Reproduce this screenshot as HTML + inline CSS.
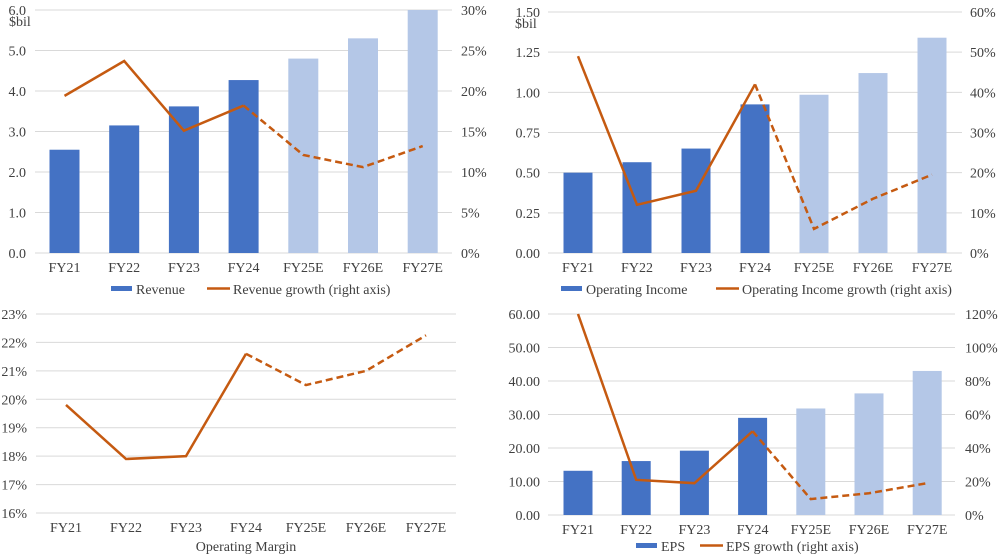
<!DOCTYPE html>
<html><head><meta charset="utf-8"><style>
body{margin:0;background:#fff;width:1000px;height:556px;overflow:hidden;font-family:"Liberation Serif",serif}
svg{position:absolute;left:0;top:0}
text{font-family:"Liberation Serif",serif;fill:#404040;font-size:14px}
</style></head><body>
<svg id="c" width="1000" height="556"></svg>
<script>
const categories=["FY21","FY22","FY23","FY24","FY25E","FY26E","FY27E"];
const revenue=[2.55,3.15,3.62,4.27,4.8,5.3,6.0];
const revenueGrowth=[19.4,23.7,15.1,18.2,12.1,10.6,13.2];
const opIncome=[0.50,0.565,0.65,0.925,0.985,1.12,1.34];
const opIncomeGrowth=[49,12,15.5,42,6,13.5,19.5];
const opMargin=[19.8,17.9,18.0,21.6,20.5,21.0,22.25];
const eps=[13.2,16.1,19.2,29.0,31.8,36.3,43.0];
const epsGrowth=[122,21,19,50,9.5,13,19];
const revTicks=["0.0","1.0","2.0","3.0","4.0","5.0","6.0"];
const pct5Ticks=["0%","5%","10%","15%","20%","25%","30%"];
const oiTicks=["0.00","0.25","0.50","0.75","1.00","1.25","1.50"];
const pct10Ticks=["0%","10%","20%","30%","40%","50%","60%"];
const marginTicks=["16%","17%","18%","19%","20%","21%","22%","23%"];
const epsTicks=["0.00","10.00","20.00","30.00","40.00","50.00","60.00"];
const pct20Ticks=["0%","20%","40%","60%","80%","100%","120%"];

const svg=document.getElementById('c');
const NS='http://www.w3.org/2000/svg';
function mk(tag,attrs,parent){const e=document.createElementNS(NS,tag);for(const k in attrs)e.setAttribute(k,attrs[k]);(parent||svg).appendChild(e);return e;}
function txt(s,x,y,anchor,parent,size){const t=mk('text',{x:x,y:y,'text-anchor':anchor||'start'},parent);if(size)t.setAttribute('font-size',size);t.textContent=s;return t;}

function chart(o){
  const g=mk('g',{});
  
  
  const n=o.lTicks.length-1;
  const yL=v=>o.y0-(v-o.lMin)/(o.lMax-o.lMin)*(o.y0-o.y1);
  const x=i=>o.xc0+i*o.step;
  for(let i=0;i<=n;i++){
    const yy=o.y0-i*(o.y0-o.y1)/n;
    const gl=mk('line',{x1:o.gx0,x2:o.gx1,y1:yy,y2:yy,stroke:'#d9d9d9','stroke-width':1},g);
    
    
    const t=txt(o.lTicks[i],o.lx,yy+5,'end',g);
    
    
    if(o.rTicks){const r=txt(o.rTicks[i],o.rx,yy+5,'start',g);
      
      }
  }
  if(o.unit){const u=txt(o.unit,o.unitX,o.y1+16,'start',g,10);}
  categories.forEach((c,i)=>{const t=txt(c,x(i),o.y0+19,'middle',g);
    
    });
  if(o.bars){o.bars.forEach((v,i)=>{
    const r=mk('rect',{x:x(i)-o.bw/2,y:yL(v),width:o.bw,height:o.y0-yL(v),fill:i<4?'#4472c4':'#b4c7e7'},g);
    
    });}
  const yR=o.rMax!==undefined?(v=>o.y0-v/o.rMax*(o.y0-o.y1)):yL;
  const ln=o.line;
  const clip=v=>Math.max(o.y1,yR(v));
  let p1='',p2='';
  for(let i=0;i<=3;i++)p1+=(i?'L':'M')+x(i)+','+clip(ln[i]);
  for(let i=3;i<7;i++)p2+=(i>3?'L':'M')+x(i)+','+clip(ln[i]);
  const a=mk('path',{d:p1,fill:'none',stroke:'#c55a11','stroke-width':2.5},g);
  
  
  const b=mk('path',{d:p2,fill:'none',stroke:'#c55a11','stroke-width':2.5,'stroke-dasharray':'7,4'},g);
  
  
}
function legend(y,bx,bt,lx,lt,name){
  const g=mk('g',{});
  
  
  mk('rect',{x:bx,y:y-4,width:21,height:5,fill:'#4472c4'},g);
  txt(bt,bx+25,y+4,'start',g);
  mk('line',{x1:lx,x2:lx+23,y1:y-1.5,y2:y-1.5,stroke:'#c55a11','stroke-width':2.5},g);
  txt(lt,lx+26,y+4,'start',g);
}
chart({name:'revenue-chart',gx0:35,gx1:452,y0:253,y1:10,lMin:0,lMax:6,lTicks:revTicks,rTicks:pct5Ticks,rMax:30,lx:26,rx:461,xc0:64.5,step:59.7,bw:30,bars:revenue,line:revenueGrowth,unit:'$bil',unitX:9});
legend(290,111,'Revenue',207,'Revenue growth (right axis)','revenue-legend');
chart({name:'operating-income-chart',gx0:548,gx1:962,y0:253,y1:12,lMin:0,lMax:1.5,lTicks:oiTicks,rTicks:pct10Ticks,rMax:60,lx:540,rx:970,xc0:578,step:59,bw:29,bars:opIncome,line:opIncomeGrowth,unit:'$bil',unitX:515});
legend(290,561,'Operating Income',716,'Operating Income growth (right axis)','operating-income-legend');
chart({name:'operating-margin-chart',gx0:36,gx1:456,y0:513,y1:314,lMin:16,lMax:23,lTicks:marginTicks,lx:27,xc0:66,step:60,line:opMargin});
const mt=txt('Operating Margin',246,551,'middle');


chart({name:'eps-chart',gx0:548,gx1:955,y0:515,y1:314,lMin:0,lMax:60,lTicks:epsTicks,rTicks:pct20Ticks,rMax:120,lx:540,rx:965,xc0:578,step:58.2,bw:29,bars:eps,line:epsGrowth});
legend(547,636,'EPS',700,'EPS growth (right axis)','eps-legend');
</script>
</body></html>
